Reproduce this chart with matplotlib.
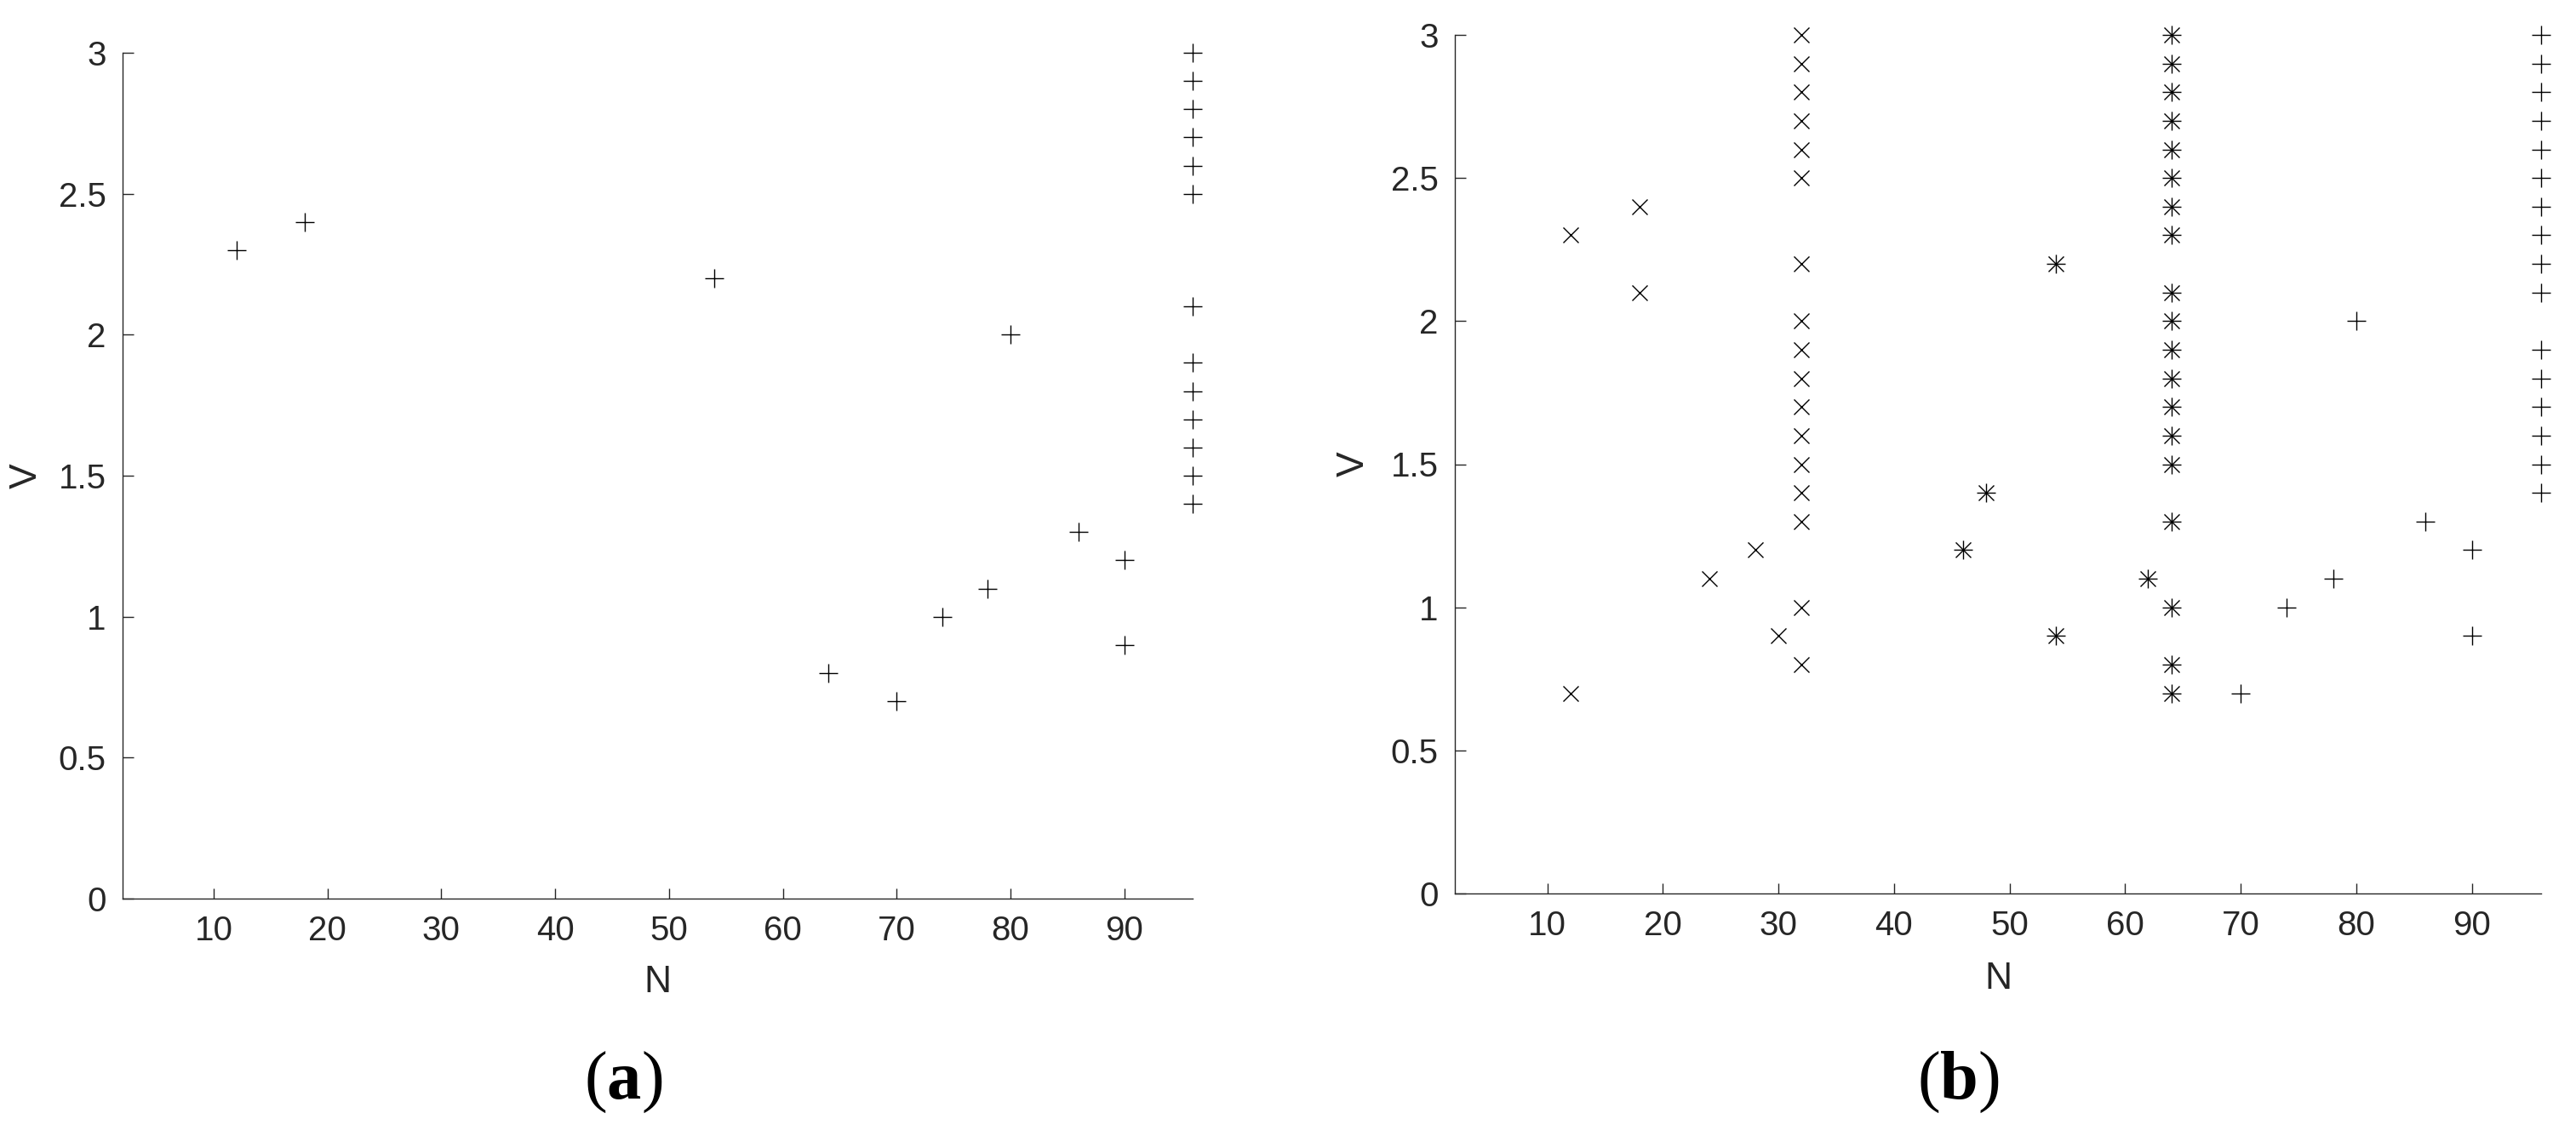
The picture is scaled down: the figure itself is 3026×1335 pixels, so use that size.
import matplotlib
matplotlib.use("Agg")
import matplotlib.pyplot as plt

plt.rcParams['font.family'] = ['Liberation Sans', 'DejaVu Sans']
plt.rcParams['mathtext.fontset'] = 'custom'
plt.rcParams['mathtext.rm'] = 'Liberation Serif'
plt.rcParams['mathtext.bf'] = 'Liberation Serif:bold'

# ---- data: panel (a) ----
a_plus_n = [12, 18, 54, 64, 70, 74, 78, 80, 86, 90, 90,
            96, 96, 96, 96, 96, 96, 96, 96, 96, 96, 96, 96, 96]
a_plus_v = [2.3, 2.4, 2.2, 0.8, 0.7, 1.0, 1.1, 2.0, 1.3, 1.2, 0.9,
            3.0, 2.9, 2.8, 2.7, 2.6, 2.5, 2.1, 1.9, 1.8, 1.7, 1.6, 1.5, 1.4]

# ---- data: panel (b) ----
b_x_n = [12, 12, 18, 18, 24, 28, 30] + [32] * 17
b_x_v = [2.3, 0.7, 2.4, 2.1, 1.1, 1.2, 0.9,
         3.0, 2.9, 2.8, 2.7, 2.6, 2.5, 2.2, 2.0, 1.9, 1.8, 1.7, 1.6, 1.5, 1.4, 1.3, 1.0, 0.8]

b_star_n = [46, 48, 54, 54, 62] + [64] * 19
b_star_v = [1.2, 1.4, 2.2, 0.9, 1.1,
            3.0, 2.9, 2.8, 2.7, 2.6, 2.5, 2.4, 2.3, 2.1, 2.0, 1.9, 1.8, 1.7, 1.6, 1.5, 1.3, 1.0, 0.8, 0.7]

b_plus_n = [70, 74, 78, 80, 86, 90, 90] + [96] * 16
b_plus_v = [0.7, 1.0, 1.1, 2.0, 1.3, 1.2, 0.9,
            3.0, 2.9, 2.8, 2.7, 2.6, 2.5, 2.4, 2.3, 2.2, 2.1, 1.9, 1.8, 1.7, 1.6, 1.5, 1.4]

x_ticks = [10, 20, 30, 40, 50, 60, 70, 80, 90]
y_ticks = [0, 0.5, 1, 1.5, 2, 2.5, 3]
y_ticklabels = ['0', '0.5', '1', '1.5', '2', '2.5', '3']
xlim = (2, 96)
ylim = (0, 3)

W, H = 3026, 1335
fig = plt.figure(figsize=(W / 100, H / 100), dpi=100)

GRAY = '#262626'
PLUS_MS, X_MS, MEW = 16.5, 12.3, 1.0


def style_axes(ax, vlab_x, nlab_y):
    ax.set_xlim(*xlim)
    ax.set_ylim(*ylim)
    ax.set_xticks(x_ticks)
    ax.set_xticklabels([str(t) for t in x_ticks])
    ax.set_yticks(y_ticks)
    ax.set_yticklabels(y_ticklabels)
    for s in ['top', 'right']:
        ax.spines[s].set_visible(False)
    for s in ['left', 'bottom']:
        ax.spines[s].set_color(GRAY)
        ax.spines[s].set_linewidth(1.0)
    ax.tick_params(direction='in', length=9, width=1.0, color=GRAY,
                   labelcolor=GRAY, labelsize=29, pad=14)
    ax.set_xlabel('N', fontsize=32, color=GRAY)
    ax.set_ylabel('V', fontsize=32, color=GRAY)
    ax.xaxis.set_label_coords(0.5, nlab_y)
    ax.xaxis.label.set_va('center')
    ax.yaxis.set_label_coords(vlab_x, 0.5)
    ax.yaxis.label.set_va('center')


# panel (a)
axa = fig.add_axes([144 / W, 1 - 1056 / H, 1257 / W, 994 / H])
axa.plot(a_plus_n, a_plus_v, linestyle='none', marker='+', ms=PLUS_MS,
         mew=MEW, color='black', clip_on=False)
style_axes(axa, (31 - 144) / 1257, (1056 - 1155) / 994)

# panel (b)
axb = fig.add_axes([1709 / W, 1 - 1050 / H, 1276 / W, 1009 / H])
axb.plot(b_x_n, b_x_v, linestyle='none', marker='x', ms=X_MS,
         mew=MEW, color='black', clip_on=False)
axb.plot(b_star_n, b_star_v, linestyle='none', marker='+', ms=PLUS_MS,
         mew=MEW, color='black', clip_on=False)
axb.plot(b_star_n, b_star_v, linestyle='none', marker='x', ms=X_MS,
         mew=MEW, color='black', clip_on=False)
axb.plot(b_plus_n, b_plus_v, linestyle='none', marker='+', ms=PLUS_MS,
         mew=MEW, color='black', clip_on=False)
style_axes(axb, (1590 - 1709) / 1276, (1050 - 1150) / 1009)

# captions
fig.text(732 / W, 1 - 1272 / H, r'$(\mathbf{a})$', fontsize=58,
         ha='center', va='center', color='black')
fig.text(2300 / W, 1 - 1272 / H, r'$(\mathbf{b})$', fontsize=58,
         ha='center', va='center', color='black')

fig.savefig('out.png', dpi=100, facecolor='white')
